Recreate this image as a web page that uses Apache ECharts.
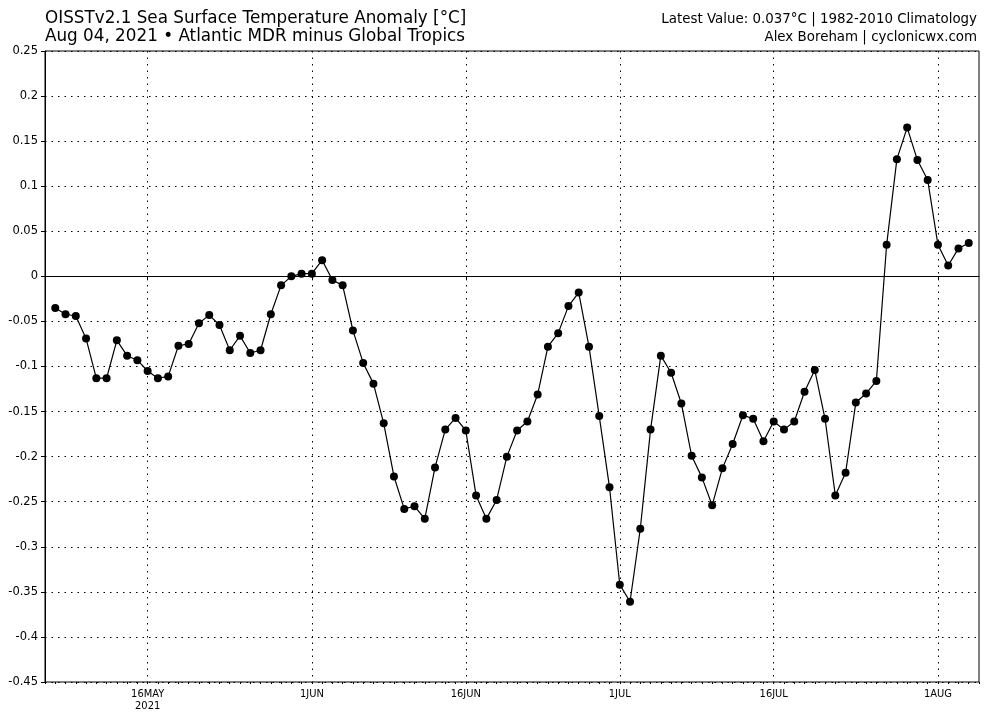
<!DOCTYPE html>
<html>
<head>
<meta charset="utf-8">
<script src="https://cdn.jsdelivr.net/npm/echarts@6/dist/echarts.min.js"></script>
<style>
html,body{margin:0;padding:0;background:#fff;}
#chart{width:1000px;height:714px;}
</style>
</head>
<body>
<div id="chart"></div>
<script>
// Axis range (one padding day on each side of the data)
const axisStart = '2021-05-06';
const axisEnd = '2021-08-05';
const firstDataDate = '2021-05-07';

// Daily anomaly values, May 7 – Aug 4 2021 (°C)
const values = [
  -0.035, -0.042, -0.044, -0.069, -0.113, -0.113, -0.071, -0.088, -0.093, -0.105,
  -0.113, -0.111, -0.077, -0.075, -0.052, -0.043, -0.054, -0.082, -0.066, -0.085,
  -0.082, -0.042, -0.010, 0.000, 0.003, 0.003, 0.018, -0.004, -0.010, -0.060,
  -0.096, -0.119, -0.163, -0.222, -0.258, -0.255, -0.269, -0.212, -0.170, -0.157,
  -0.171, -0.243, -0.269, -0.248, -0.200, -0.171, -0.161, -0.131, -0.078, -0.063,
  -0.033, -0.018, -0.078, -0.155, -0.234, -0.342, -0.361, -0.280, -0.170, -0.088,
  -0.107, -0.141, -0.199, -0.223, -0.254, -0.213, -0.186, -0.154, -0.158, -0.183,
  -0.161, -0.170, -0.161, -0.128, -0.104, -0.158, -0.243, -0.218, -0.140, -0.130,
  -0.116, 0.035, 0.130, 0.165, 0.129, 0.107, 0.035, 0.012, 0.031, 0.037
];

// Labelled x ticks
const tickDates = ['2021-05-16', '2021-06-01', '2021-06-16', '2021-07-01', '2021-07-16', '2021-08-01'];
const tickLabels = ['16MAY\n2021', '1JUN', '16JUN', '1JUL', '16JUL', '1AUG'];

const titleLeft = ['OISSTv2.1 Sea Surface Temperature Anomaly [°C]', 'Aug 04, 2021 • Atlantic MDR minus Global Tropics'];
const titleRight = ['Latest Value: 0.037°C | 1982-2010 Climatology', 'Alex Boreham | cyclonicwx.com'];

const yMin = -0.45, yMax = 0.25, yStep = 0.05;

function fmt(d) {
  const m = String(d.getUTCMonth() + 1).padStart(2, '0');
  const day = String(d.getUTCDate()).padStart(2, '0');
  return d.getUTCFullYear() + '-' + m + '-' + day;
}
const categories = [];
for (let t = Date.parse(axisStart + 'T00:00:00Z'); t <= Date.parse(axisEnd + 'T00:00:00Z'); t += 86400000) {
  categories.push(fmt(new Date(t)));
}
const offset = categories.indexOf(firstDataDate);
const seriesData = values.map((v, i) => [categories[offset + i], v]);

const isTick = (idx, val) => tickDates.indexOf(categories[idx]) >= 0;

const chart = echarts.init(document.getElementById('chart'), null, {renderer: 'canvas'});
const dotted = [1.5, 5];
const txt = (s, x, y, size, align) => ({
  type: 'text', x: x, y: y, silent: true,
  style: {text: s, fill: '#000', font: size + 'px "DejaVu Sans"', textAlign: align, textVerticalAlign: 'middle'}
});
chart.setOption({
  animation: false,
  backgroundColor: '#ffffff',
  textStyle: {fontFamily: 'DejaVu Sans'},
  graphic: [
    txt(titleLeft[0], 45, 18.5, 16.8, 'left'),
    txt(titleLeft[1], 45, 37, 16.8, 'left'),
    txt(titleRight[0], 977, 19.5, 13.4, 'right'),
    txt(titleRight[1], 977, 37.5, 13.4, 'right')
  ],
  grid: {left: 45, right: 21, top: 51, bottom: 32, show: true, borderColor: '#000', borderWidth: 1, backgroundColor: 'transparent'},
  xAxis: [
    {
      type: 'category',
      data: categories,
      boundaryGap: false,
      axisLine: {show: true, lineStyle: {color: '#000', width: 1}},
      axisTick: {show: true, interval: isTick, length: 4, lineStyle: {color: '#000'}},
      axisLabel: {
        show: true, interval: isTick, margin: 6,
        fontFamily: 'DejaVu Sans Condensed', fontSize: 11, color: '#000', lineHeight: 12,
        formatter: (val) => { const k = tickDates.indexOf(val); return k >= 0 ? tickLabels[k] : ''; }
      },
      splitLine: {show: true, interval: isTick, lineStyle: {color: '#000', width: 1, type: dotted}}
    },
    {
      type: 'category',
      data: categories,
      boundaryGap: false,
      position: 'bottom',
      axisLine: {show: false},
      axisTick: {show: true, interval: 0, length: 2, lineStyle: {color: '#000', width: 1}},
      axisLabel: {show: false},
      splitLine: {show: false}
    }
  ],
  yAxis: {
    type: 'value',
    min: yMin, max: yMax, interval: yStep,
    axisLine: {show: true, lineStyle: {color: '#000'}},
    axisTick: {show: true, length: 4, lineStyle: {color: '#000'}},
    axisLabel: {
      fontFamily: 'DejaVu Sans', fontSize: 11.5, color: '#000', margin: 7,
      formatter: (v) => { const r = Math.round(v * 100) / 100; return r === 0 ? '0' : String(r); }
    },
    splitLine: {show: true, lineStyle: {color: '#000', width: 1, type: dotted}}
  },
  series: [{
    type: 'line',
    data: seriesData,
    symbol: 'circle',
    symbolSize: 8,
    showAllSymbol: true,
    itemStyle: {color: '#000'},
    lineStyle: {color: '#000', width: 1.2},
    markLine: {
      silent: true, symbol: 'none', label: {show: false},
      lineStyle: {color: '#000', width: 1, type: 'solid'},
      data: [{yAxis: 0}]
    },
    z: 3
  }]
});
</script>
</body>
</html>
